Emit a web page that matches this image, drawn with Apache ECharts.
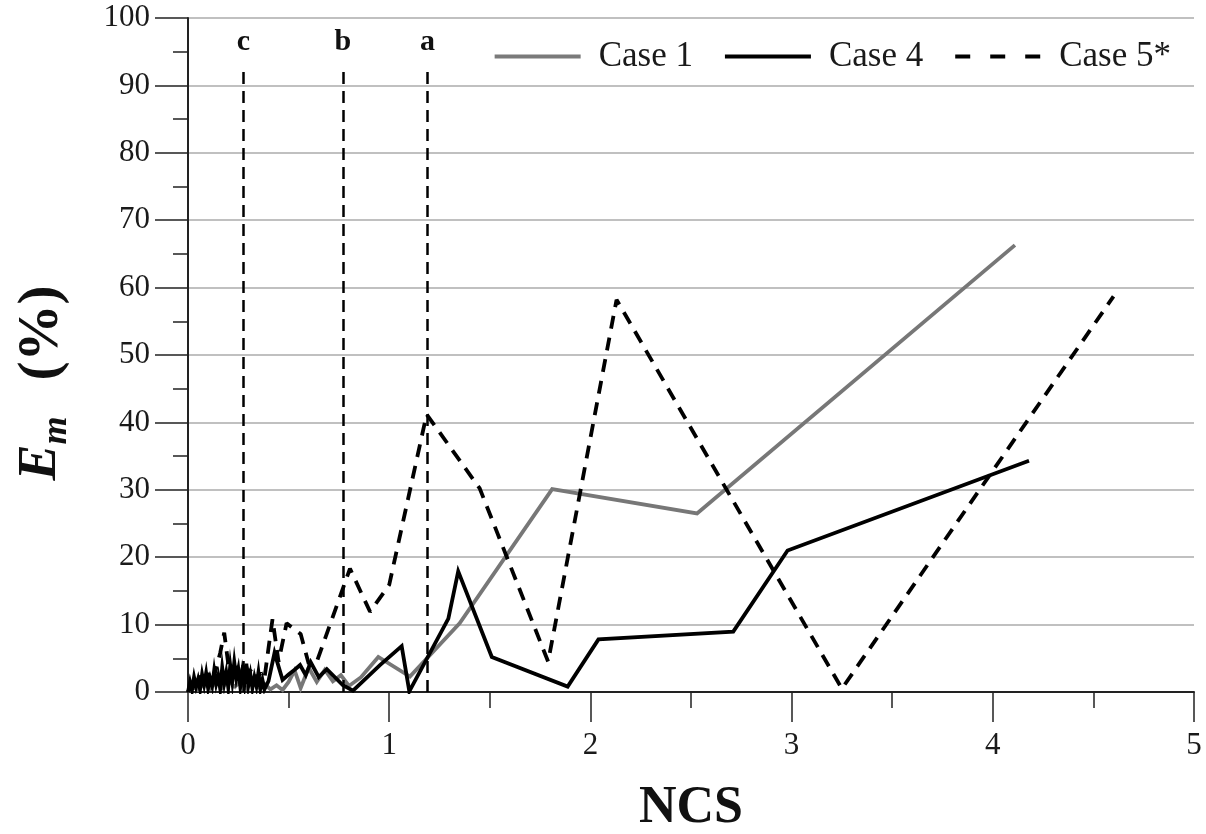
<!DOCTYPE html>
<html>
<head>
<meta charset="utf-8">
<script src="https://cdn.jsdelivr.net/npm/echarts@6/dist/echarts.min.js"></script>
<style>
  html, body { margin: 0; padding: 0; background: #fff; }
  #chart { width: 1206px; height: 834px; }
</style>
</head>
<body>
<div id="chart"></div>
<script>
// Series names shown in the legend
const seriesNames = ['Case 1', 'Case 4', 'Case 5*'];

// Em (%) against NCS for each case, as [NCS, Em] pairs
const case1 = [
  [0, 0], [0.02, 0.8], [0.05, 0.3], [0.08, 1.2], [0.11, 0.5], [0.14, 1.5], [0.17, 0.6],
  [0.20, 1.8], [0.23, 0.8], [0.26, 1.4], [0.29, 0.5], [0.32, 1.6], [0.35, 0.7], [0.38, 1.2],
  [0.41, 0.4], [0.44, 1.0], [0.47, 0.3], [0.50, 1.5], [0.53, 3.2], [0.56, 0.6], [0.60, 3.6],
  [0.64, 1.5], [0.68, 3.3], [0.72, 1.6], [0.76, 2.5], [0.80, 0.9], [0.86, 2.2], [0.946, 5.2],
  [1.103, 2.3], [1.35, 10.2], [1.81, 30.1], [2.53, 26.5], [4.11, 66.3]
];

const case4 = [
  [0, 0], [0.01, 1.5], [0.02, 0.3], [0.03, 2.2], [0.04, 0.8], [0.05, 1.9], [0.06, 0.4],
  [0.07, 2.6], [0.08, 1.1], [0.09, 2.8], [0.10, 0.6], [0.11, 2.0], [0.12, 0.9], [0.13, 3.2],
  [0.14, 1.2], [0.15, 2.4], [0.16, 0.5], [0.17, 3.6], [0.18, 1.3], [0.19, 2.9], [0.20, 0.7],
  [0.21, 3.9], [0.22, 1.6], [0.23, 4.4], [0.24, 2.0], [0.25, 3.4], [0.26, 0.8], [0.27, 3.0],
  [0.28, 1.2], [0.29, 4.2], [0.30, 1.0], [0.31, 2.6], [0.32, 0.6], [0.33, 2.2], [0.34, 0.9],
  [0.35, 2.9], [0.36, 0.5], [0.37, 1.8], [0.38, 0.4], [0.40, 1.6], [0.43, 5.8], [0.47, 1.8],
  [0.50, 2.6], [0.53, 3.3], [0.557, 4.0], [0.585, 2.5], [0.61, 4.4], [0.65, 2.2], [0.69, 3.4],
  [0.77, 1.0], [0.82, 0.2], [0.954, 4.0], [1.062, 6.8], [1.10, 0.1], [1.294, 10.9],
  [1.343, 17.9], [1.51, 5.2], [1.887, 0.8], [2.04, 7.8], [2.71, 8.95], [2.98, 21.0], [4.18, 34.3]
];

const case5 = [
  [0, 0], [0.02, 1.2], [0.04, 0.5], [0.06, 2.4], [0.08, 1.0], [0.10, 2.8], [0.12, 1.4],
  [0.14, 3.5], [0.16, 5.8], [0.18, 8.8], [0.20, 4.2], [0.22, 2.6], [0.24, 3.8], [0.26, 2.2],
  [0.28, 4.6], [0.30, 2.8], [0.32, 3.6], [0.34, 1.9], [0.36, 2.8], [0.38, 2.0], [0.40, 6.5],
  [0.42, 10.8], [0.45, 4.5], [0.49, 10.2], [0.56, 8.6], [0.60, 4.2], [0.64, 4.5],
  [0.805, 18.3], [0.905, 11.9], [1.0, 15.9], [1.186, 41.2], [1.45, 30.2], [1.79, 4.5],
  [2.13, 58.2], [3.25, 0.5], [4.6, 58.7]
];

// Marked NCS positions (labelled vertical dashed lines)
const markNames = ['c', 'b', 'a'];
const markNCS = [0.275, 0.77, 1.19];
const markTop = 93;

// Axis ranges
const xRange = [0, 5];
const yRange = [0, 100];

const serif = "'Liberation Serif', 'Times New Roman', 'DejaVu Serif', serif";

const chart = echarts.init(document.getElementById('chart'), null, { renderer: 'canvas' });

const markLineData = markNames.map((n, i) => [
  { coord: [markNCS[i], 0], symbol: 'none' },
  { coord: [markNCS[i], markTop], symbol: 'none', name: n }
]);

chart.setOption({
  backgroundColor: '#ffffff',
  animation: false,
  grid: { left: 188, right: 12, top: 18, bottom: 142, containLabel: false, outerBoundsMode: 'none' },
  legend: {
    data: [
      { name: seriesNames[0], lineStyle: { width: 4, color: '#7a7a7a' } },
      { name: seriesNames[1], lineStyle: { width: 4, color: '#000' } },
      { name: seriesNames[2], lineStyle: { width: 4, color: '#000', type: [15, 20] } }
    ],
    right: 30,
    top: 34,
    itemWidth: 86,
    itemHeight: 14,
    itemGap: 30,
    itemStyle: { opacity: 0, borderWidth: 0 },
    textStyle: { fontFamily: serif, fontSize: 35, color: '#1a1a1a', padding: [0, 0, 0, 13] }
  },
  xAxis: {
    type: 'value',
    min: xRange[0], max: xRange[1], interval: 1,
    name: 'NCS',
    nameLocation: 'middle',
    nameGap: 91,
    nameTextStyle: { fontFamily: serif, fontSize: 52, fontWeight: 'bold', color: '#111' },
    axisLine: { lineStyle: { color: '#222', width: 2 } },
    axisTick: { show: true, inside: false, length: 30, lineStyle: { color: '#222', width: 1.5 } },
    minorTick: { show: true, splitNumber: 2, length: 16, lineStyle: { color: '#222', width: 1.5 } },
    axisLabel: { fontFamily: serif, fontSize: 31, color: '#1a1a1a', margin: 38 },
    splitLine: { show: false }
  },
  yAxis: {
    type: 'value',
    min: yRange[0], max: yRange[1], interval: 10,
    name: '{e|E}{m|m}{s| }{p|(%)}{g|}',
    nameLocation: 'middle',
    nameRotate: 90,
    nameGap: 113,
    nameTextStyle: {
      fontFamily: serif, color: '#111',
      rich: {
        e: { fontFamily: serif, fontSize: 54, fontWeight: 'bold', fontStyle: 'italic', lineHeight: 54, verticalAlign: 'top', color: '#111' },
        m: { fontFamily: serif, fontSize: 36, fontWeight: 'bold', fontStyle: 'italic', lineHeight: 36, verticalAlign: 'bottom', color: '#111' },
        s: { fontFamily: serif, fontSize: 20, lineHeight: 61, width: 36, verticalAlign: 'top' },
        p: { fontFamily: serif, fontSize: 57, fontWeight: 'bold', lineHeight: 57, verticalAlign: 'top', color: '#111' },
        g: { width: 56, lineHeight: 10 }
      }
    },
    axisLine: { show: true, lineStyle: { color: '#222', width: 2 } },
    axisTick: { show: true, inside: false, length: 33, lineStyle: { color: '#222', width: 1.5 } },
    minorTick: { show: true, splitNumber: 2, length: 15, lineStyle: { color: '#222', width: 1.5 } },
    axisLabel: { fontFamily: serif, fontSize: 31, color: '#1a1a1a', margin: 38 },
    splitLine: { show: true, lineStyle: { color: '#c0c0c0', width: 2 } }
  },
  series: [
    {
      name: seriesNames[0], type: 'line', data: case1,
      symbol: 'none', z: 3,
      lineStyle: { color: '#777', width: 3.8, join: 'miter' },
      itemStyle: { color: '#777' }
    },
    {
      name: seriesNames[1], type: 'line', data: case4,
      symbol: 'none', z: 4,
      lineStyle: { color: '#000', width: 3.8, join: 'miter' },
      itemStyle: { color: '#000' }
    },
    {
      name: seriesNames[2], type: 'line', data: case5,
      symbol: 'none', z: 5,
      lineStyle: { color: '#000', width: 3.8, type: [13, 9] },
      itemStyle: { color: '#000' },
      markLine: {
        silent: true,
        symbol: 'none',
        animation: false,
        lineStyle: { color: '#000', width: 2.5, type: [12, 7] },
        label: {
          show: true, position: 'end', distance: 8,
          formatter: p => p.name,
          fontFamily: serif, fontSize: 30, fontWeight: 'bold', color: '#111'
        },
        emphasis: { disabled: true },
        data: markLineData
      }
    }
  ]
});
</script>
</body>
</html>
